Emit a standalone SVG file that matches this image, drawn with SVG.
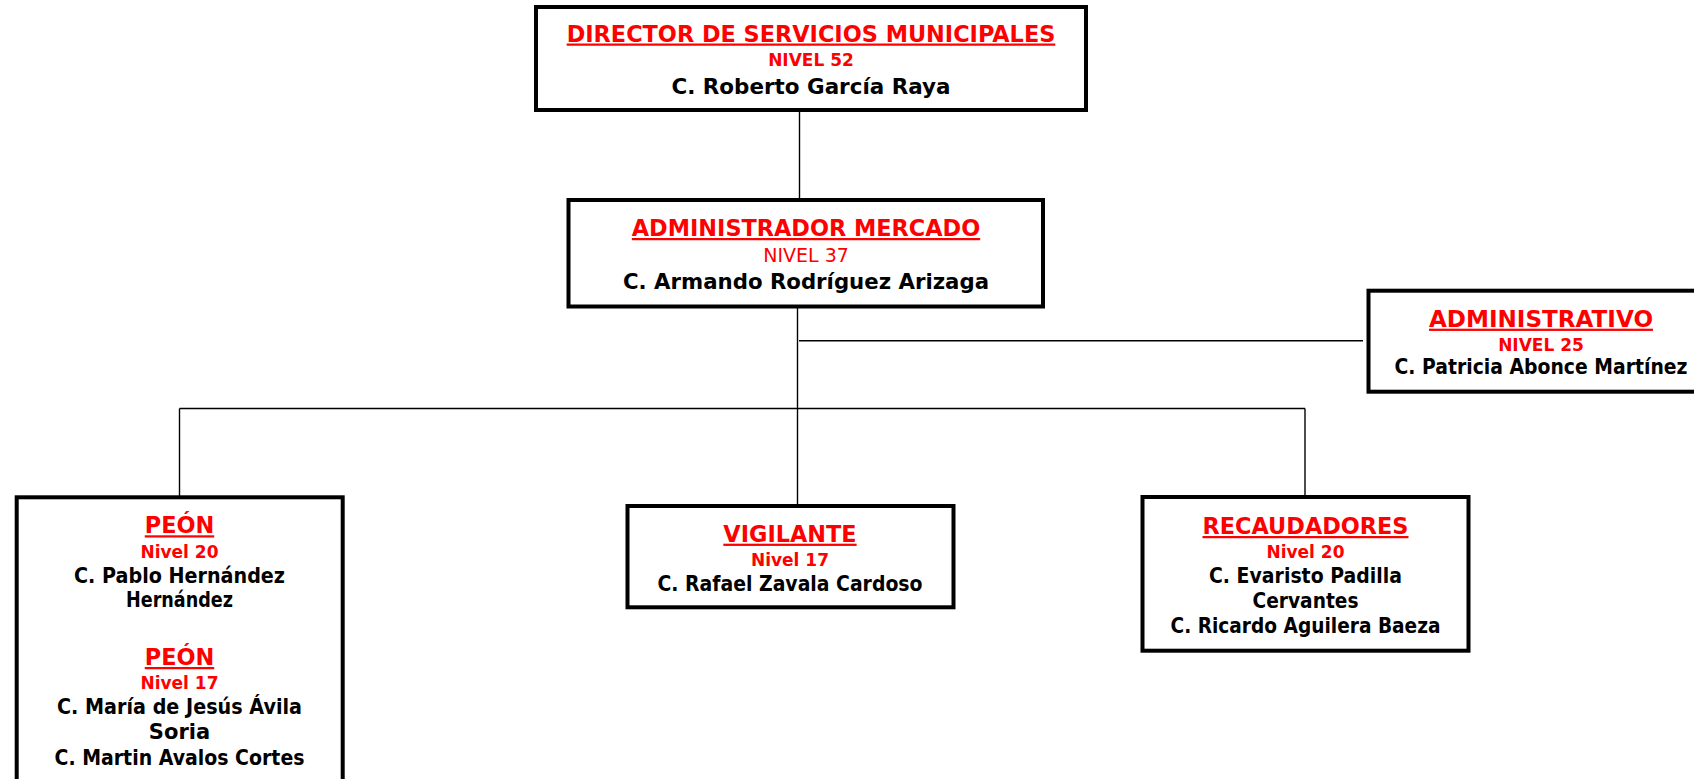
<svg xmlns="http://www.w3.org/2000/svg" width="1694" height="779" viewBox="0 0 1694 779">
<style>
.box{fill:#fff;stroke:#000;stroke-width:4}
.ln{stroke:#000;stroke-width:1.4;fill:none}
text{font-family:"DejaVu Sans","Verdana",sans-serif;text-anchor:middle}
.t{fill:#f00;font-weight:bold;font-size:22.4px;text-decoration:underline}
.n{fill:#f00;font-weight:bold;font-size:17px}
.nr{fill:#f00;font-weight:normal;font-size:19px}
.p{fill:#000;font-weight:bold;font-size:21px}
</style>
<rect width="1694" height="779" fill="#fff"/>
<g id="connectors">
<line class="ln" x1="799.5" y1="110" x2="799.5" y2="200"/>
<line class="ln" x1="797.5" y1="307" x2="797.5" y2="506"/>
<line class="ln" x1="799" y1="340.7" x2="1363" y2="340.7"/>
<line class="ln" x1="179.5" y1="408.5" x2="1305" y2="408.5"/>
<line class="ln" x1="179.5" y1="408.5" x2="179.5" y2="497"/>
<line class="ln" x1="1305" y1="408.5" x2="1305" y2="497"/>
</g>
<g id="director">
<rect class="box" x="536" y="7" width="550" height="103"/>
<text class="t" x="811" y="41.5">DIRECTOR DE SERVICIOS MUNICIPALES</text>
<text class="n" x="811" y="65.5">NIVEL 52</text>
<text class="p" x="811" y="93.5" textLength="279" lengthAdjust="spacingAndGlyphs">C. Roberto García Raya</text>
</g>
<g id="admin-mercado">
<rect class="box" x="568.5" y="200" width="474.5" height="106.5"/>
<text class="t" x="806" y="236">ADMINISTRADOR MERCADO</text>
<text class="nr" x="806" y="261.5">NIVEL 37</text>
<text class="p" x="806" y="289" textLength="366" lengthAdjust="spacingAndGlyphs">C. Armando Rodríguez Arizaga</text>
</g>
<g id="administrativo">
<rect class="box" x="1368.5" y="290.7" width="345" height="101"/>
<text class="t" x="1541" y="326.7" textLength="224" lengthAdjust="spacingAndGlyphs">ADMINISTRATIVO</text>
<text class="n" x="1541" y="350.7">NIVEL 25</text>
<text class="p" x="1541" y="374" textLength="293" lengthAdjust="spacingAndGlyphs">C. Patricia Abonce Martínez</text>
</g>
<g id="peon">
<rect class="box" x="16.7" y="497.3" width="326" height="300"/>
<text class="t" x="179.5" y="533.3">PEÓN</text>
<text class="n" x="179.5" y="557.7">Nivel 20</text>
<text class="p" x="179.5" y="582.7" textLength="211" lengthAdjust="spacingAndGlyphs">C. Pablo Hernández</text>
<text class="p" x="179.5" y="607.3" textLength="107" lengthAdjust="spacingAndGlyphs">Hernández</text>
<text class="t" x="179.5" y="665">PEÓN</text>
<text class="n" x="179.5" y="689.3">Nivel 17</text>
<text class="p" x="179.5" y="714" textLength="245" lengthAdjust="spacingAndGlyphs">C. María de Jesús Ávila</text>
<text class="p" x="179.5" y="739.3">Soria</text>
<text class="p" x="179.5" y="765" textLength="250" lengthAdjust="spacingAndGlyphs">C. Martin Avalos Cortes</text>
</g>
<g id="vigilante">
<rect class="box" x="627.5" y="506" width="326" height="101.3"/>
<text class="t" x="790" y="541.7">VIGILANTE</text>
<text class="n" x="790" y="566">Nivel 17</text>
<text class="p" x="790" y="590.7" textLength="265" lengthAdjust="spacingAndGlyphs">C. Rafael Zavala Cardoso</text>
</g>
<g id="recaudadores">
<rect class="box" x="1142.5" y="497" width="326" height="153.7"/>
<text class="t" x="1305.5" y="534">RECAUDADORES</text>
<text class="n" x="1305.5" y="558.3">Nivel 20</text>
<text class="p" x="1305.5" y="582.7" textLength="193" lengthAdjust="spacingAndGlyphs">C. Evaristo Padilla</text>
<text class="p" x="1305.5" y="607.7" textLength="106" lengthAdjust="spacingAndGlyphs">Cervantes</text>
<text class="p" x="1305.5" y="632.7" textLength="270" lengthAdjust="spacingAndGlyphs">C. Ricardo Aguilera Baeza</text>
</g>
</svg>
